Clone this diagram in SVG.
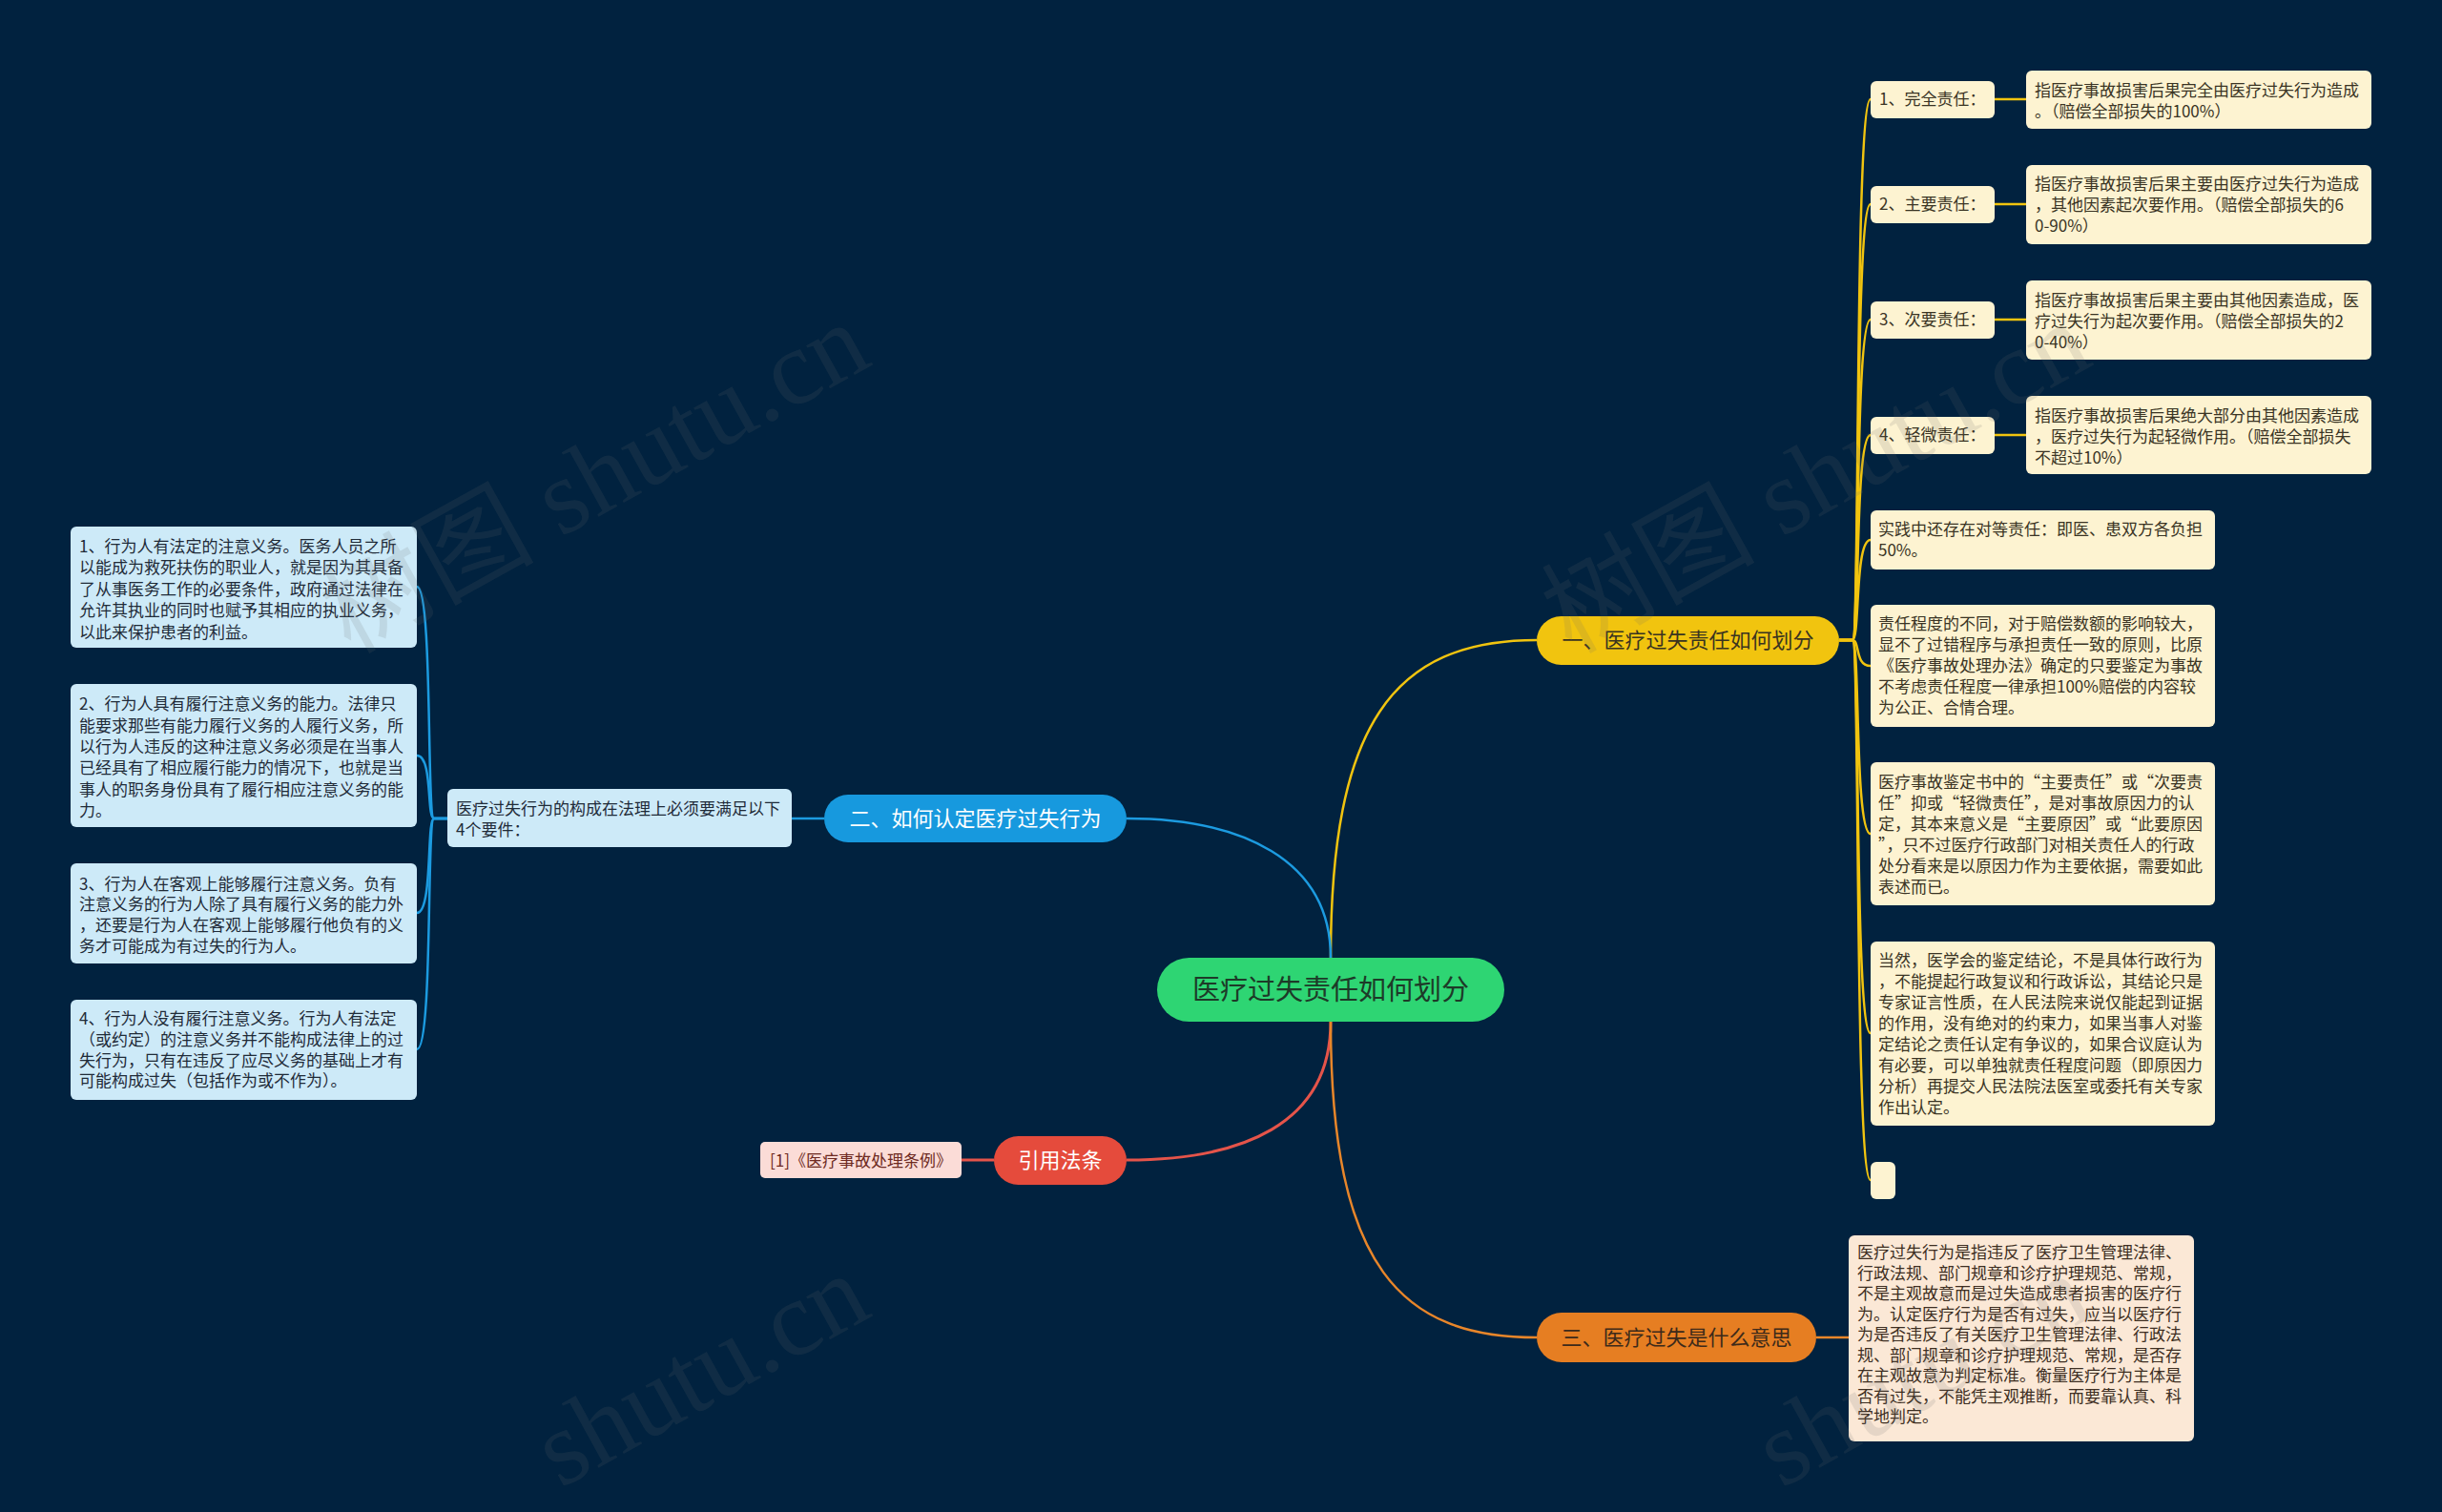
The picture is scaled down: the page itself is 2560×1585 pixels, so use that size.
<svg xmlns="http://www.w3.org/2000/svg" width="2560" height="1585" viewBox="0 0 2560 1585" xml:lang="zh-CN">
<style>
text{font-family:"Noto Sans CJK SC","Noto Sans",sans-serif;}
.t17{font-size:17px;}
.ty{fill:#3a3424;}
.tb{fill:#1f2b38;}
.to{fill:#3d2e22;}
.tp{fill:#6e2a22;}
.br{font-size:22px;text-anchor:middle;}
.ly{fill:#fdf3d1;}
.lb{fill:#cdeaf8;}
.lo{fill:#fbe8d6;}
.lp{fill:#fbdcd7;}
.cy{fill:none;stroke:#f1c40f;stroke-width:2.5;}
.cb{fill:none;stroke:#1c9be0;stroke-width:2.5;}
.cr{fill:none;stroke:#e5544a;stroke-width:3;}
.co{fill:none;stroke:#e8862a;stroke-width:2.5;}
.wm{font-family:"Liberation Serif","Noto Sans CJK SC",serif;font-size:112px;fill:#6e6e6e;fill-opacity:0.15;}
</style>
<rect x="0" y="0" width="2560" height="1585" fill="#01223f"/>

<g id="connectors">
<path class="cy" d="M1395 1004 C1395 760 1460 671 1611 671" stroke-width="3"/>
<path class="cb" d="M1395 1004 C1395 900 1300 858 1181 858" stroke-width="3"/>
<path class="cr" d="M1395 1071 C1395 1180 1300 1216 1181 1216"/>
<path class="co" d="M1395 1071 C1395 1330 1470 1402 1611 1402" stroke-width="3"/>
<path class="cb" d="M864 858 L830 858" stroke-width="3"/>
<path class="cr" d="M1042 1216 L1008 1216"/>
<path class="co" d="M1904 1402 L1938 1402" stroke-width="3"/>
<path class="cy" d="M1928 671 L1942 671 C1950 671 1944 104 1961 104"/>
<path class="cy" d="M1928 671 L1942 671 C1950 671 1944 214 1961 214"/>
<path class="cy" d="M1928 671 L1942 671 C1950 671 1944 335 1961 335"/>
<path class="cy" d="M1928 671 L1942 671 C1950 671 1944 456 1961 456"/>
<path class="cy" d="M1928 671 L1942 671 C1950 671 1944 566 1961 566"/>
<path class="cy" d="M1928 671 L1942 671 C1950 671 1944 698 1961 698"/>
<path class="cy" d="M1928 671 L1942 671 C1950 671 1944 874 1961 874"/>
<path class="cy" d="M1928 671 L1942 671 C1950 671 1944 1083 1961 1083"/>
<path class="cy" d="M1928 671 L1942 671 C1950 671 1944 1237 1961 1237"/>
<path class="cy" d="M2091 104 L2124 104" stroke-width="3.5"/>
<path class="cy" d="M2091 214 L2124 214" stroke-width="3.5"/>
<path class="cy" d="M2091 335 L2124 335" stroke-width="3.5"/>
<path class="cy" d="M2091 456 L2124 456" stroke-width="3.5"/>
<path class="cb" d="M469 858 L455 858 C447 858 454 615 437 615"/>
<path class="cb" d="M469 858 L455 858 C447 858 454 792 437 792"/>
<path class="cb" d="M469 858 L455 858 C447 858 454 957 437 957"/>
<path class="cb" d="M469 858 L455 858 C447 858 454 1100 437 1100"/>
</g>

<g id="center">
<rect x="1213" y="1004" width="364" height="67" rx="33.5" fill="#2ed573"/>
<text x="1395" y="1048" font-size="29" text-anchor="middle" fill="#1d3a28">医疗过失责任如何划分</text>
</g>

<g id="branch1">
<rect x="1611" y="646" width="317" height="51" rx="25.5" fill="#f1c40f"/>
<text class="br" x="1769.5" y="679" fill="#3a3420">一、医疗过失责任如何划分</text>
</g>
<g id="branch2">
<rect x="864" y="833" width="317" height="50" rx="25" fill="#1799de"/>
<text class="br" x="1022.5" y="866" fill="#ffffff">二、如何认定医疗过失行为</text>
</g>
<g id="branch3">
<rect x="1042" y="1191" width="139" height="51" rx="25.5" fill="#e54b3c"/>
<text class="br" x="1111.5" y="1224" fill="#ffffff">引用法条</text>
</g>
<g id="branch4">
<rect x="1611" y="1376" width="293" height="52" rx="26" fill="#e67e22"/>
<text class="br" x="1757.5" y="1410" fill="#3d2a1a">三、医疗过失是什么意思</text>
</g>

<g id="y-label1"><rect class="ly" x="1961" y="85" width="130" height="39" rx="6"/><text class="t17 ty" x="1970" y="110">1、完全责任：</text></g>
<g id="y-label2"><rect class="ly" x="1961" y="195" width="130" height="39" rx="6"/><text class="t17 ty" x="1970" y="220">2、主要责任：</text></g>
<g id="y-label3"><rect class="ly" x="1961" y="316" width="130" height="39" rx="6"/><text class="t17 ty" x="1970" y="341">3、次要责任：</text></g>
<g id="y-label4"><rect class="ly" x="1961" y="437" width="130" height="39" rx="6"/><text class="t17 ty" x="1970" y="462">4、轻微责任：</text></g>

<g id="y-desc1"><rect class="ly" x="2124" y="74" width="362" height="61" rx="6"/>
<text class="t17 ty"><tspan x="2133" y="101">指医疗事故损害后果完全由医疗过失行为造成</tspan><tspan x="2133" y="123">。（赔偿全部损失的100%）</tspan></text></g>
<g id="y-desc2"><rect class="ly" x="2124" y="173" width="362" height="83" rx="6"/>
<text class="t17 ty"><tspan x="2133" y="199">指医疗事故损害后果主要由医疗过失行为造成</tspan><tspan x="2133" y="221">，其他因素起次要作用。（赔偿全部损失的6</tspan><tspan x="2133" y="243">0-90%）</tspan></text></g>
<g id="y-desc3"><rect class="ly" x="2124" y="294" width="362" height="83" rx="6"/>
<text class="t17 ty"><tspan x="2133" y="321">指医疗事故损害后果主要由其他因素造成，医</tspan><tspan x="2133" y="343">疗过失行为起次要作用。（赔偿全部损失的2</tspan><tspan x="2133" y="365">0-40%）</tspan></text></g>
<g id="y-desc4"><rect class="ly" x="2124" y="415" width="362" height="82" rx="6"/>
<text class="t17 ty"><tspan x="2133" y="442">指医疗事故损害后果绝大部分由其他因素造成</tspan><tspan x="2133" y="464">，医疗过失行为起轻微作用。（赔偿全部损失</tspan><tspan x="2133" y="486">不超过10%）</tspan></text></g>

<g id="y-leaf5"><rect class="ly" x="1961" y="535" width="361" height="62" rx="6"/>
<text class="t17 ty"><tspan x="1969" y="561">实践中还存在对等责任：即医、患双方各负担</tspan><tspan x="1969" y="583">50%。</tspan></text></g>
<g id="y-leaf6"><rect class="ly" x="1961" y="634" width="361" height="128" rx="6"/>
<text class="t17 ty"><tspan x="1969" y="660">责任程度的不同，对于赔偿数额的影响较大，</tspan><tspan x="1969" y="682">显不了过错程序与承担责任一致的原则，比原</tspan><tspan x="1969" y="704">《医疗事故处理办法》确定的只要鉴定为事故</tspan><tspan x="1969" y="726">不考虑责任程度一律承担100%赔偿的内容较</tspan><tspan x="1969" y="748">为公正、合情合理。</tspan></text></g>
<g id="y-leaf7"><rect class="ly" x="1961" y="799" width="361" height="150" rx="6"/>
<text class="t17 ty"><tspan x="1969" y="826">医疗事故鉴定书中的“主要责任”或“次要责</tspan><tspan x="1969" y="848">任”抑或“轻微责任”，是对事故原因力的认</tspan><tspan x="1969" y="870">定，其本来意义是“主要原因”或“此要原因</tspan><tspan x="1969" y="892">”，只不过医疗行政部门对相关责任人的行政</tspan><tspan x="1969" y="914">处分看来是以原因力作为主要依据，需要如此</tspan><tspan x="1969" y="936">表述而已。</tspan></text></g>
<g id="y-leaf8"><rect class="ly" x="1961" y="987" width="361" height="193" rx="6"/>
<text class="t17 ty"><tspan x="1969" y="1013">当然，医学会的鉴定结论，不是具体行政行为</tspan><tspan x="1969" y="1035">，不能提起行政复议和行政诉讼，其结论只是</tspan><tspan x="1969" y="1057">专家证言性质，在人民法院来说仅能起到证据</tspan><tspan x="1969" y="1079">的作用，没有绝对的约束力，如果当事人对鉴</tspan><tspan x="1969" y="1101">定结论之责任认定有争议的，如果合议庭认为</tspan><tspan x="1969" y="1123">有必要，可以单独就责任程度问题（即原因力</tspan><tspan x="1969" y="1145">分析）再提交人民法院法医室或委托有关专家</tspan><tspan x="1969" y="1167">作出认定。</tspan></text></g>
<g id="y-leaf9"><rect class="ly" x="1961" y="1218" width="26" height="39" rx="6"/></g>

<g id="o-leaf"><rect class="lo" x="1938" y="1295" width="362" height="216" rx="6"/>
<text class="t17 to"><tspan x="1947" y="1319">医疗过失行为是指违反了医疗卫生管理法律、</tspan><tspan x="1947" y="1340.5">行政法规、部门规章和诊疗护理规范、常规，</tspan><tspan x="1947" y="1362">不是主观故意而是过失造成患者损害的医疗行</tspan><tspan x="1947" y="1383.5">为。认定医疗行为是否有过失，应当以医疗行</tspan><tspan x="1947" y="1405">为是否违反了有关医疗卫生管理法律、行政法</tspan><tspan x="1947" y="1426.5">规、部门规章和诊疗护理规范、常规，是否存</tspan><tspan x="1947" y="1448">在主观故意为判定标准。衡量医疗行为主体是</tspan><tspan x="1947" y="1469.5">否有过失，不能凭主观推断，而要靠认真、科</tspan><tspan x="1947" y="1491">学地判定。</tspan></text></g>

<g id="p-leaf"><rect class="lp" x="797" y="1197" width="211" height="38" rx="5"/>
<text class="t17 tp" x="807" y="1223">[1]《医疗事故处理条例》</text></g>

<g id="b-leaf"><rect class="lb" x="469" y="827" width="361" height="61" rx="6"/>
<text class="t17 tb"><tspan x="478" y="854">医疗过失行为的构成在法理上必须要满足以下</tspan><tspan x="478" y="876">4个要件：</tspan></text></g>

<g id="b-child1"><rect class="lb" x="74" y="552" width="363" height="127" rx="6"/>
<text class="t17 tb"><tspan x="83" y="579">1、行为人有法定的注意义务。医务人员之所</tspan><tspan x="83" y="601">以能成为救死扶伤的职业人，就是因为其具备</tspan><tspan x="83" y="624">了从事医务工作的必要条件，政府通过法律在</tspan><tspan x="83" y="646">允许其执业的同时也赋予其相应的执业义务，</tspan><tspan x="83" y="669">以此来保护患者的利益。</tspan></text></g>
<g id="b-child2"><rect class="lb" x="74" y="717" width="363" height="150" rx="6"/>
<text class="t17 tb"><tspan x="83" y="744">2、行为人具有履行注意义务的能力。法律只</tspan><tspan x="83" y="767">能要求那些有能力履行义务的人履行义务，所</tspan><tspan x="83" y="789">以行为人违反的这种注意义务必须是在当事人</tspan><tspan x="83" y="811">已经具有了相应履行能力的情况下，也就是当</tspan><tspan x="83" y="834">事人的职务身份具有了履行相应注意义务的能</tspan><tspan x="83" y="856">力。</tspan></text></g>
<g id="b-child3"><rect class="lb" x="74" y="905" width="363" height="105" rx="6"/>
<text class="t17 tb"><tspan x="83" y="933">3、行为人在客观上能够履行注意义务。负有</tspan><tspan x="83" y="954">注意义务的行为人除了具有履行义务的能力外</tspan><tspan x="83" y="976">，还要是行为人在客观上能够履行他负有的义</tspan><tspan x="83" y="998">务才可能成为有过失的行为人。</tspan></text></g>
<g id="b-child4"><rect class="lb" x="74" y="1048" width="363" height="105" rx="6"/>
<text class="t17 tb"><tspan x="83" y="1074">4、行为人没有履行注意义务。行为人有法定</tspan><tspan x="83" y="1096">（或约定）的注意义务并不能构成法律上的过</tspan><tspan x="83" y="1118">失行为，只有在违反了应尽义务的基础上才有</tspan><tspan x="83" y="1139">可能构成过失（包括作为或不作为）。</tspan></text></g>

<g id="watermark">
<text class="wm" transform="translate(367 686) rotate(-29)">树图 shutu.cn</text>
<text class="wm" transform="translate(1647 686) rotate(-29)">树图 shutu.cn</text>
<text class="wm" transform="translate(367 1683) rotate(-29)" x="252">shutu.cn</text>
<text class="wm" transform="translate(1647 1683) rotate(-29)" x="252">shutu.cn</text>
</g>
</svg>
